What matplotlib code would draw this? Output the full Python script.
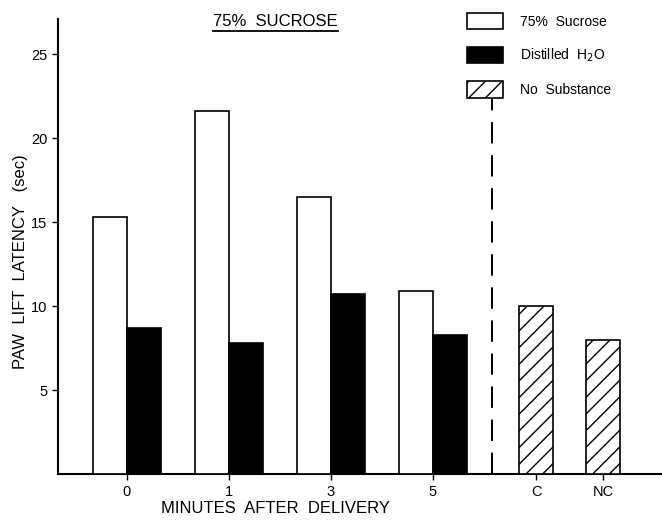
import matplotlib
matplotlib.use("Agg")
import matplotlib.pyplot as plt
from matplotlib.patches import Patch
import numpy as np

# ── Datos ────────────────────────────────────────────────────────────────────
minutos = ["0", "1", "3", "5"]
sacarosa = [15.3, 21.6, 16.5, 10.9]
agua = [8.7, 7.8, 10.7, 8.3]
control_lbl = ["C", "NC"]
control = [10.0, 8.0]

plt.rcParams["font.family"] = ["Liberation Sans", "DejaVu Sans"]

fig = plt.figure(figsize=(6.62, 5.21), dpi=100)
ax = fig.add_axes([0.0876, 0.090, 0.9124, 0.8735])

x = np.arange(len(minutos))
w = 0.335
ax.bar(x - w / 2, sacarosa, width=w, color="white", edgecolor="black", linewidth=1.2, zorder=3)
ax.bar(x + w / 2, agua, width=w, color="black", edgecolor="black", linewidth=1.2, zorder=3)

xc = np.array([4.01, 4.67])
ax.bar(xc, control, width=w, color="white", edgecolor="black", linewidth=1.2, hatch="//", zorder=3)

ax.plot([3.58, 3.58], [0, 22.4], color="black", lw=1.4, dashes=(11, 6), zorder=2)

ax.set_xlim(-0.676, 5.245)
ax.set_ylim(0, 27.1)
ax.set_xticks(list(x) + list(xc))
ax.set_xticklabels(minutos + control_lbl, fontsize=10)
ax.set_yticks([5, 10, 15, 20, 25])
ax.tick_params(axis="both", direction="out", length=4, width=1, labelsize=10.5)
ax.tick_params(axis="x", pad=4)
for s in ("top", "right"):
    ax.spines[s].set_visible(False)
for s in ("left", "bottom"):
    ax.spines[s].set_linewidth(1.5)

ax.set_xlabel("MINUTES  AFTER  DELIVERY", fontsize=12)
ax.set_ylabel("PAW  LIFT  LATENCY   (sec)", fontsize=12)
ax.xaxis.set_label_coords(0.36, -0.058)
ax.yaxis.set_label_coords(-0.05, 0.468)

# Título subrayado
tit = fig.text(0.416, 0.958, "75%  SUCROSE", ha="center", va="center", fontsize=12)
fig.canvas.draw()
bb = tit.get_window_extent(fig.canvas.get_renderer()).transformed(fig.transFigure.inverted())
fig.add_artist(plt.Line2D([bb.x0, bb.x1], [bb.y0 - 0.004, bb.y0 - 0.004], color="black", lw=1.3,
                          transform=fig.transFigure))

handles = [
    Patch(facecolor="white", edgecolor="black", linewidth=1.2),
    Patch(facecolor="black", edgecolor="black", linewidth=1.2),
    Patch(facecolor="white", edgecolor="black", linewidth=1.2, hatch="//"),
]
ax.legend(handles, ["75%  Sucrose", "Distilled  H$_2$O", "No  Substance"],
          loc="upper left", bbox_to_anchor=(0.657, 1.04), frameon=False, fontsize=10,
          handlelength=2.6, handleheight=1.4, labelspacing=1.25, handletextpad=1.2)

fig.savefig("out.png", dpi=100)
